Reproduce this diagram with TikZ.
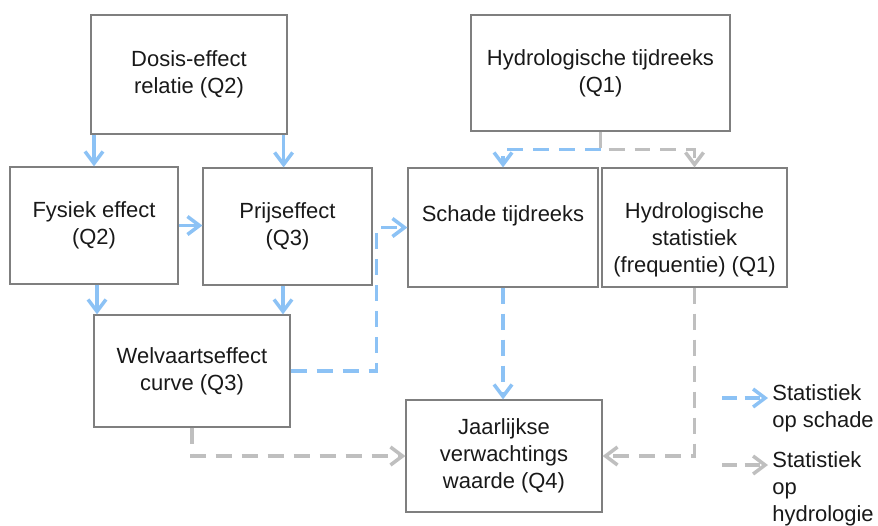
\documentclass[tikz,border=0pt]{standalone}
\usepackage{fontspec}
\setmainfont{Liberation Sans}
\usetikzlibrary{arrows.meta}
\definecolor{lijnblauw}{HTML}{8CC2F5}
\definecolor{lijngrijs}{HTML}{BFBFBF}
\definecolor{randgrijs}{HTML}{7F7F7F}
\begin{document}
\begin{tikzpicture}[x=0.02cm,y=-0.02cm,
    font=\fontsize{12.5}{15.4}\selectfont,
    box/.style={draw=randgrijs,line width=0.7pt,align=center,inner sep=0pt,text=black!90},
    pijl/.style={line width=2pt,-{Straight Barb[length=0.24cm,width=0.36cm]}},
    blauw/.style={pijl,draw=lijnblauw},
    streep/.style={dash pattern=on 0.32cm off 0.2cm},
    grijs/.style={pijl,draw=lijngrijs,streep}]
  \useasboundingbox (0,0) rectangle (878,525);
  % vakken
  \node[box,minimum width=3.92cm,minimum height=2.38cm] (dosis) at (189,74.5)
    {Dosis-effect\\relatie (Q2)};
  \node[box,minimum width=5.18cm,minimum height=2.32cm] (hydro) at (600.5,73)
    {Hydrologische tijdreeks\\(Q1)};
  \node[box,minimum width=3.36cm,minimum height=2.34cm] (fysiek) at (94,225.5)
    {Fysiek effect\\(Q2)};
  \node[box,minimum width=3.38cm,minimum height=2.34cm] (prijs) at (287.5,226.5)
    {Prijseffect\\(Q3)};
  \node[box,minimum width=3.8cm,minimum height=2.38cm] (schade) at (503,227.5)
    {Schade tijdreeks\\\mbox{}};
  \node[box,minimum width=3.7cm,minimum height=2.38cm,
    label={[align=center,text=black!90,yshift=-0.25cm]center:Hydrologische\\statistiek\\(frequentie) (Q1)}]
    (stat) at (694.5,227.5) {};
  \node[box,minimum width=3.92cm,minimum height=2.24cm] (welvaart) at (192,371)
    {Welvaartseffect\\curve (Q3)};
  \node[box,minimum width=3.92cm,minimum height=2.24cm] (jaarlijks) at (504,456)
    {Jaarlijkse\\verwachtings\\waarde (Q4)};
  % doorgaande pijlen
  \draw[blauw] (fysiek.north |- dosis.south) -- (fysiek.north);
  \draw[blauw] ([xshift=-0.08cm]dosis.south east) -- ([xshift=-0.08cm]dosis.south east |- prijs.north);
  \draw[blauw] (fysiek.east) -- (fysiek.east -| prijs.west);
  \draw[blauw] ([xshift=0.06cm]fysiek.south) -- ([xshift=0.06cm]fysiek.south |- welvaart.north);
  \draw[blauw] ([xshift=-0.09cm]prijs.south) -- ([xshift=-0.09cm]prijs.south |- welvaart.north);
  % statistiek
  \draw[blauw,streep] (welvaart.east) -| ([xshift=-0.62cm]schade.west) -- (schade.west);
  \draw[grijs] (hydro.south) -- ++(0,18) coordinate (splits) -| (stat.north);
  \draw[blauw,streep] (splits) -| (schade.north);
  \draw[blauw,streep] (schade.south) -- (schade.south |- jaarlijks.north);
  \draw[grijs] (welvaart.south) |- (jaarlijks.west);
  \draw[grijs] (stat.south) |- (jaarlijks.east);
  % legenda
  \coordinate (leg1) at (722,398);
  \coordinate (leg2) at (722,465);
  \draw[blauw,dash pattern=on 0.3cm off 0.15cm] (leg1) -- ++(46,0) coordinate (leg1e);
  \draw[grijs,dash pattern=on 0.3cm off 0.15cm] (leg2) -- ++(46,0) coordinate (leg2e);
  \node[anchor=north west,align=left,inner sep=0pt,text=black!90] (tekst1) at ([xshift=0.08cm,yshift=0.27cm]leg1e)
    {Statistiek\\op schade};
  \node[anchor=north west,align=left,inner sep=0pt,text=black!90] (tekst2) at ([xshift=0.08cm,yshift=0.27cm]leg2e)
    {Statistiek\\op\\hydrologie};
\end{tikzpicture}
\end{document}
